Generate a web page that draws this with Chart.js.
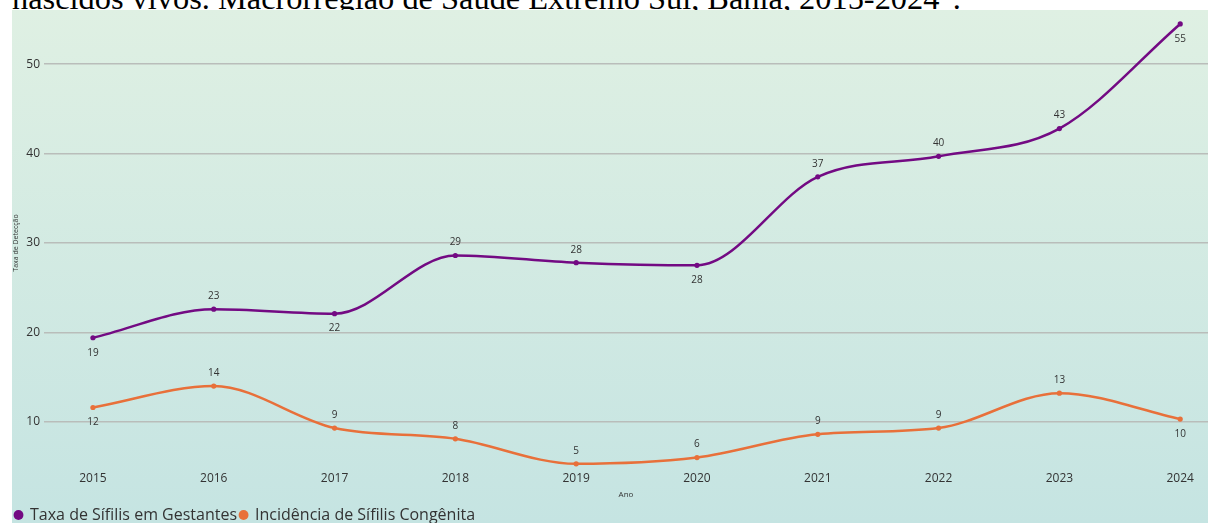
<!DOCTYPE html>
<html lang="pt-BR">
<head>
<meta charset="utf-8">
<script src="https://cdn.jsdelivr.net/npm/chart.js@4.4.0/dist/chart.umd.min.js"></script>
<style>
  html, body { margin: 0; padding: 0; background: #fff; overflow: hidden; }
  body { width: 1208px; height: 523px; position: relative; }
  #titulo {
    position: absolute; left: 12px; top: -20px;
    font-family: "Liberation Serif", "Times New Roman", serif;
    font-size: 32.4px; color: #000; white-space: nowrap;
  }
  #caixa {
    position: absolute; left: 12px; top: 10px; width: 1196px; height: 513px;
    background: linear-gradient(to bottom, #dff0e3, #c5e4e2);
    overflow: hidden;
  }
  canvas { display: block; }
</style>
</head>
<body>
<div id="titulo">nascidos vivos. Macrorregião de Saúde Extremo Sul, Bahia, 2015-2024".</div>
<div id="caixa"><canvas id="grafico" width="1196" height="523"></canvas></div>
<script>
// ------------------- DADOS -------------------
const anos = [2015, 2016, 2017, 2018, 2019, 2020, 2021, 2022, 2023, 2024];
const taxaGestantes = [19.4, 22.6, 22.1, 28.6, 27.8, 27.5, 37.4, 39.7, 42.8, 54.5];
const incidenciaCongenita = [11.6, 14.0, 9.3, 8.1, 5.3, 6.0, 8.6, 9.3, 13.2, 10.3];
const ticksY = [10, 20, 30, 40, 50];

const fonte = "'Segoe UI', 'Open Sans', sans-serif";

// rotulos de dados (sem plugin externo)
const rotulosPlugin = {
  id: 'rotulos',
  afterDatasetsDraw(chart){
    const ctx = chart.ctx;
    ctx.save();
    ctx.font = "10px " + fonte;
    ctx.fillStyle = "#333";
    ctx.textAlign = "center";
    ctx.textBaseline = "middle";
    chart.data.datasets.forEach((ds, i)=>{
      const meta = chart.getDatasetMeta(i);
      meta.data.forEach((pt, j)=>{
        const acima = ds.posRotulo[j] === 'a';
        const y = acima ? pt.y - 13 : pt.y + 15;
        ctx.fillText(Math.round(ds.data[j].y), pt.x, y);
      });
    });
    ctx.restore();
  }
};

const paraPontos = vals => vals.map((v, i)=>({ x: anos[i], y: v }));

new Chart(document.getElementById("grafico"), {
  type: 'line',
  data: {
    datasets: [
      {
        label: 'Taxa de Sífilis em Gestantes',
        data: paraPontos(taxaGestantes),
        borderColor: '#730a83',
        backgroundColor: '#730a83',
        borderWidth: 2.5,
        pointRadius: 2.6,
        pointBorderWidth: 0,
        cubicInterpolationMode: 'monotone',
        posRotulo: ['b','a','b','a','a','b','a','a','a','b']
      },
      {
        label: 'Incidência de Sífilis Congênita',
        data: paraPontos(incidenciaCongenita),
        borderColor: '#e8703a',
        backgroundColor: '#e8703a',
        borderWidth: 2.5,
        pointRadius: 2.6,
        pointBorderWidth: 0,
        cubicInterpolationMode: 'monotone',
        posRotulo: ['b','a','a','a','a','a','a','a','a','b']
      }
    ]
  },
  options: {
    responsive: false,
    animation: false,
    clip: false,
    layout: { autoPadding: false, padding: { top: 9.5, right: 0, left: 0, bottom: 0 } },
    plugins: {
      legend: {
        position: 'bottom',
        align: 'start',
        labels: {
          usePointStyle: true, pointStyle: 'circle',
          boxWidth: 7, boxHeight: 7, padding: 3,
          color: '#333', font: { family: fonte, size: 16 }
        }
      },
      tooltip: { enabled: false }
    },
    scales: {
      x: {
        type: 'linear',
        min: 2014.595, max: 2024.23,
        afterBuildTicks: s => { s.ticks = anos.map(v=>({ value: v })); },
        afterFit: s => { s.height = 37.5; },
        ticks: { callback: v => String(v), color: '#333', font: { family: fonte, size: 12 }, padding: 5, maxRotation: 0 },
        grid: { display: false, drawTicks: false },
        border: { display: false },
        title: { display: true, text: 'Ano', color: '#333', font: { family: fonte, size: 8 }, padding: { top: 0, bottom: 4 } }
      },
      y: {
        min: 5, max: 55,
        afterBuildTicks: s => { s.ticks = ticksY.map(v=>({ value: v })); },
        afterFit: s => { s.width = 32; s.paddingTop = 0; s.paddingBottom = 0; },
        ticks: { color: '#333', font: { family: fonte, size: 12 }, padding: 4 },
        grid: { color: '#b9bdba', lineWidth: 1.5, drawTicks: false },
        border: { display: false },
        title: { display: true, text: 'Taxa de Detecção', color: '#333', font: { family: fonte, size: 7 }, padding: 0 }
      }
    }
  },
  plugins: [rotulosPlugin]
});
</script>
</body>
</html>
